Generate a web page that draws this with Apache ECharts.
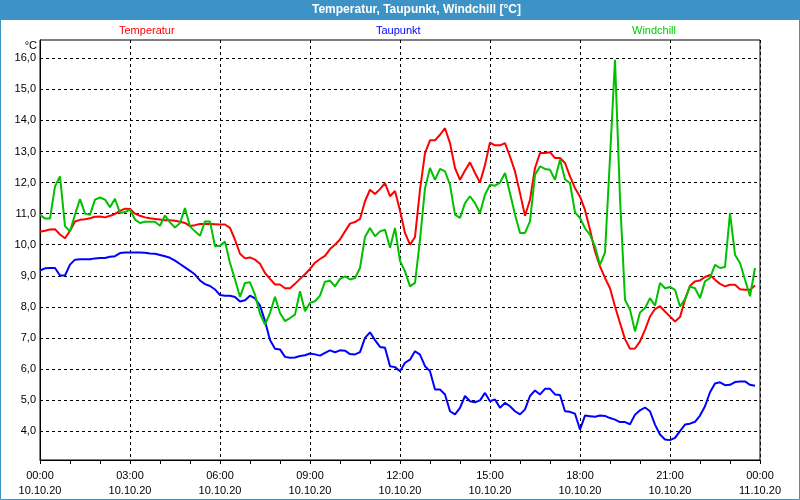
<!DOCTYPE html>
<html><head><meta charset="utf-8">
<script src="https://cdn.jsdelivr.net/npm/echarts@6/dist/echarts.min.js"></script>
<style>html,body{margin:0;padding:0;background:#fff}#c{width:800px;height:500px}</style>
</head><body><div id="c"></div>
<script>
// x tick labels (every 3 hours)
const tickLabels = ['00:00\n10.10.20','03:00\n10.10.20','06:00\n10.10.20','09:00\n10.10.20','12:00\n10.10.20','15:00\n10.10.20','18:00\n10.10.20','21:00\n10.10.20','00:00\n11.10.20'];
const yTicks = [4,5,6,7,8,9,10,11,12,13,14,15,16];
const stepMinutes = 10; // sample spacing, starting 10.10.20 00:00

const temperatur = [
 10.42,10.45,10.49,10.50,10.33,10.21, 10.45,10.75,10.80,10.82,10.85,10.90, 10.91,10.88,10.93,10.99,11.09,11.16,
 11.15,11.00,10.93,10.88,10.85,10.83, 10.81,10.79,10.79,10.77,10.74,10.70, 10.60,10.63,10.67,10.67,10.67,10.66,
 10.65,10.65,10.54,10.16,9.71,9.56, 9.59,9.52,9.39,9.09,8.90,8.72, 8.72,8.60,8.60,8.74,8.90,9.05,
 9.22,9.42,9.54,9.64,9.86,10.00, 10.17,10.43,10.68,10.73,10.83,11.40, 11.77,11.63,11.79,11.98,11.56,11.73,
 11.10,10.38,10.00,10.25,11.77,12.95, 13.36,13.36,13.54,13.75,13.27,12.47, 12.09,12.39,12.65,12.31,12.00,12.57,
 13.29,13.20,13.20,13.27,12.84,12.36, 11.66,10.93,11.45,12.47,12.95,12.95, 12.98,12.79,12.79,12.63,12.20,11.82,
 11.55,11.12,10.48,9.78,9.30,8.93, 8.60,8.01,7.48,6.96,6.65,6.66, 6.89,7.26,7.69,7.93,8.02,7.85,
 7.69,7.53,7.67,8.23,8.68,8.82, 8.85,8.96,9.03,8.87,8.74,8.66, 8.71,8.71,8.57,8.55,8.55,8.69
];
const taupunkt = [
 9.17,9.24,9.25,9.25,9.01,9.01, 9.36,9.52,9.53,9.53,9.53,9.56, 9.57,9.57,9.61,9.63,9.73,9.75,
 9.75,9.75,9.75,9.74,9.72,9.71, 9.67,9.63,9.58,9.49,9.38,9.27, 9.16,9.04,8.85,8.73,8.67,8.56,
 8.38,8.36,8.36,8.32,8.17,8.21, 8.36,8.27,8.04,7.54,6.93,6.65, 6.63,6.39,6.36,6.37,6.42,6.44,
 6.50,6.47,6.43,6.52,6.60,6.54, 6.60,6.59,6.48,6.47,6.54,7.00, 7.18,6.93,6.71,6.68,6.09,6.06,
 5.93,6.20,6.30,6.57,6.46,6.09, 5.93,5.34,5.34,5.18,4.64,4.54, 4.75,5.13,4.96,4.93,4.99,5.23,
 4.96,5.02,4.75,4.91,4.80,4.64, 4.54,4.70,5.13,5.31,5.18,5.36, 5.36,5.18,5.16,4.64,4.62,4.56,
 4.05,4.50,4.48,4.46,4.50,4.49, 4.42,4.37,4.29,4.29,4.22,4.53, 4.67,4.76,4.64,4.21,3.89,3.73,
 3.71,3.78,4.00,4.21,4.24,4.30, 4.50,4.80,5.25,5.53,5.57,5.48, 5.49,5.58,5.60,5.60,5.49,5.46
];
const windchill = [
 10.96,10.84,10.84,11.88,12.20,10.60, 10.43,10.97,11.47,11.00,10.96,11.45, 11.52,11.45,11.21,11.48,11.02,11.05,
 11.13,10.81,10.70,10.74,10.74,10.74, 10.61,10.94,10.72,10.55,10.70,11.18, 10.59,10.43,10.29,10.75,10.75,9.95,
 9.97,10.10,9.41,8.88,8.32,8.77, 8.79,8.39,7.78,7.43,7.80,8.32, 7.80,7.54,7.64,7.75,8.50,7.86,
 8.13,8.18,8.36,8.81,8.84,8.66, 8.90,8.98,8.88,8.93,9.25,10.25, 10.54,10.27,10.43,10.48,9.90,10.54,
 9.48,9.14,8.66,8.77,10.16,11.82, 12.47,12.09,12.44,12.36,11.93,10.97, 10.86,11.34,11.56,11.34,11.02,11.61,
 11.93,11.90,12.00,12.31,11.66,10.97, 10.38,10.38,10.75,12.25,12.52,12.44, 12.41,12.09,12.74,12.11,11.98,11.04,
 10.86,10.53,10.32,9.94,9.35,9.75, 12.80,15.95,11.50,8.23,7.91,7.21, 7.82,7.96,8.28,8.04,8.77,8.60,
 8.64,8.55,8.01,8.25,8.66,8.60, 8.28,8.82,8.93,9.35,9.25,9.28, 11.02,9.68,9.41,8.87,8.34,9.25
];

function pairs(arr){ return arr.map((v,i)=>[i*stepMinutes, v]); }
const FONT = 'Liberation Sans, Arial, sans-serif';
const frameBlue = '#3e93c6';

const chart = echarts.init(document.getElementById('c'), null, {renderer:'canvas'});
chart.setOption({
  animation: false,
  backgroundColor: '#ffffff',
  textStyle: {fontFamily: FONT},
  graphic: [
    {type:'rect', z:-10, shape:{x:0,y:0,width:800,height:20}, style:{fill:frameBlue}},
    {type:'rect', z:-10, shape:{x:0.5,y:0.5,width:799,height:499}, style:{fill:null, stroke:frameBlue, lineWidth:1}},
    {type:'text', x:37, y:46, style:{text:'°C', fill:'#000', font:'11px ' + FONT, textAlign:'right', textVerticalAlign:'middle'}}
  ],
  title: {
    text: 'Temperatur, Taupunkt, Windchill [°C]',
    left: 312, top: 4, padding: 0,
    textStyle: {color:'#ffffff', fontSize:12, fontWeight:'bold', fontFamily: FONT}
  },
  legend: [
    {data:[{name:'Temperatur', textStyle:{color:'#ff0000'}}], left:114, top:24, icon:'none', itemWidth:0, itemHeight:14, padding:0, selectedMode:false, textStyle:{fontSize:11, fontFamily:FONT}},
    {data:[{name:'Taupunkt', textStyle:{color:'#0000ff'}}], left:371, top:24, icon:'none', itemWidth:0, itemHeight:14, padding:0, selectedMode:false, textStyle:{fontSize:11, fontFamily:FONT}},
    {data:[{name:'Windchill', textStyle:{color:'#00cc00'}}], left:627, top:24, icon:'none', itemWidth:0, itemHeight:14, padding:0, selectedMode:false, textStyle:{fontSize:11, fontFamily:FONT}}
  ],
  grid: {left:40, right:40, top:40, bottom:40, show:true, borderColor:'#000', borderWidth:1, backgroundColor:'transparent'},
  xAxis: {
    type:'value', min:0, max:1440, interval:180,
    axisLine:{show:true, lineStyle:{color:'#000', width:1}},
    axisTick:{show:true, length:4, lineStyle:{color:'#000'}},
    minorTick:{show:true, splitNumber:3, length:4, lineStyle:{color:'#000'}},
    splitLine:{show:true, lineStyle:{color:'#000', type:[3,3], width:1}},
    axisLabel:{formatter:(v)=>tickLabels[Math.round(v/180)], color:'#000', fontSize:11, lineHeight:15, margin:8, fontFamily:FONT}
  },
  yAxis: {
    type:'value', min:3.07, max:16.59,
    axisLine:{show:true, lineStyle:{color:'#000', width:1}},
    axisTick:{show:false, customValues: yTicks},
    splitLine:{show:true, lineStyle:{color:'#000', type:[3,3], width:1}},
    axisLabel:{customValues: yTicks, formatter:(v)=>v.toFixed(1).replace('.', ','), color:'#000', fontSize:11, margin:4, fontFamily:FONT}
  },
  series: [
    {name:'Temperatur', type:'line', data:pairs(temperatur), showSymbol:false, lineStyle:{color:'#ff0000', width:2}, itemStyle:{color:'#ff0000'}, z:3},
    {name:'Taupunkt', type:'line', data:pairs(taupunkt), showSymbol:false, lineStyle:{color:'#0000ff', width:2}, itemStyle:{color:'#0000ff'}, z:2},
    {name:'Windchill', type:'line', data:pairs(windchill), showSymbol:false, lineStyle:{color:'#00c000', width:2}, itemStyle:{color:'#00c000'}, z:4}
  ]
});
</script></body></html>
